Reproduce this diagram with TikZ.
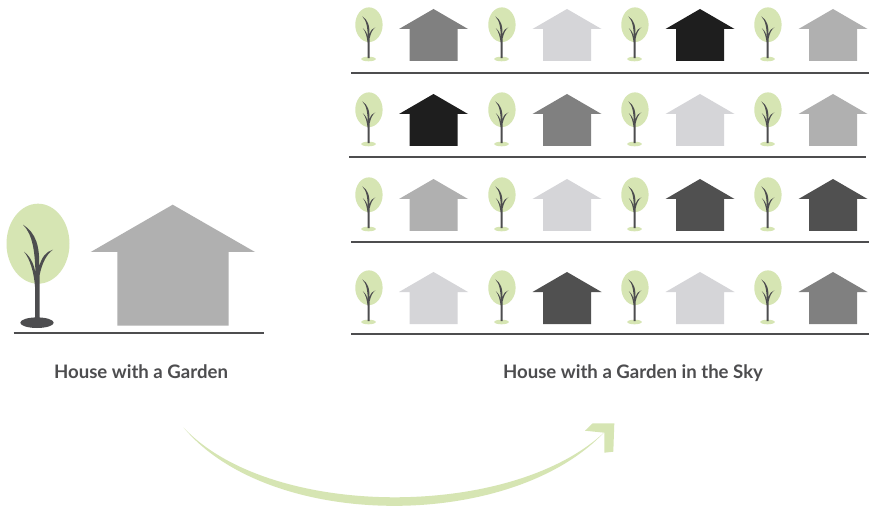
\documentclass[tikz,border=0pt]{standalone}
\usepackage{fontspec}
\setmainfont{Lato}
\definecolor{leaf}{HTML}{D6E5B3}
\definecolor{bark}{HTML}{4D4D4F}
\definecolor{hA}{HTML}{1E1E1E}
\definecolor{hB}{HTML}{505050}
\definecolor{hC}{HTML}{808080}
\definecolor{hD}{HTML}{B0B0B0}
\definecolor{hE}{HTML}{D5D5D8}
\tikzset{
  ground/.style={draw=bark,line width=1.9pt},
  caption/.style={text=bark,font=\fontsize{18.6pt}{22pt}\selectfont\bfseries,inner sep=0pt,anchor=base},
  pics/treeshape/.style={code={
    \fill[leaf] (1,-79) ellipse [x radius=31.5,y radius=40];
    \fill[#1] (0,0) ellipse [x radius=16.7,y radius=5.3];
    \fill[bark] (-2,-2) -- (-2,-36)
      .. controls (-3,-50) and (-7,-64) .. (-13,-71)
      .. controls (-6,-66) and (-2,-56) .. (-1.5,-48)
      .. controls (-2,-70) and (-4,-88) .. (-14,-98)
      .. controls (-1,-90) and (3,-76) .. (2,-56)
      .. controls (5,-66) and (9,-71) .. (16,-73)
      .. controls (10,-69) and (5,-60) .. (2.5,-47)
      -- (2.5,-2) -- cycle;
  }},
  pics/houseshape/.style={code={
    \fill[#1] (0,-52) -- (34.5,-32) -- (24,-32) -- (24,0) -- (-24,0) -- (-24,-32) -- (-34.5,-32) -- cycle;
  }}
}
\newcommand{\skyrow}[9]{%
  \draw[ground] (#2,#1) -- (#3,#1);
  \foreach \tx in {368.5,501.5,634.5,767.5}
    \pic[scale=0.434,transform shape] at (\tx,#4-2) {treeshape=leaf};
  \pic at (433.5,#4) {houseshape=#5};
  \pic at (567,#4) {houseshape=#6};
  \pic at (700,#4) {houseshape=#7};
  \pic at (833,#4) {houseshape=#8};
}
\begin{document}
\begin{tikzpicture}[x=1pt,y=-1pt]
\useasboundingbox (0,0) rectangle (882,526);
\fill[white] (0,0) rectangle (882,526);
% left scene
\pic at (37,322.7) {treeshape=bark};
\fill[hD] (172.7,204.7) -- (255,252) -- (228.7,252) -- (228.7,325.7) -- (117.3,325.7) -- (117.3,252) -- (90.7,252) -- cycle;
\draw[ground] (13.5,332.7) -- (264,332.7);
\node[caption] (leftlabel) at (141,378.3) {House with a Garden};
% right scene
\skyrow{73}{351}{869}{61}{hC}{hE}{hA}{hD}{}
\skyrow{157}{349}{866}{146}{hA}{hC}{hE}{hD}{}
\skyrow{242}{351}{869}{231}{hD}{hE}{hB}{hB}{}
\skyrow{334}{351}{869}{324}{hE}{hB}{hE}{hC}{}
\node[caption] (rightlabel) at (633,378.3) {House with a Garden in the Sky};
% arrow
\fill[leaf] (183.5,427.5)
  .. controls (270,519.6) and (510,519.6) .. (603.5,433)
  .. controls (510,531) and (270,531) .. cycle;
\fill[leaf] (585,430.7) -- (592.7,423.3) -- (614.3,423.3) -- (613.3,451.7) -- (604.3,452.7) -- (604.3,432.7) -- cycle;
\end{tikzpicture}
\end{document}
